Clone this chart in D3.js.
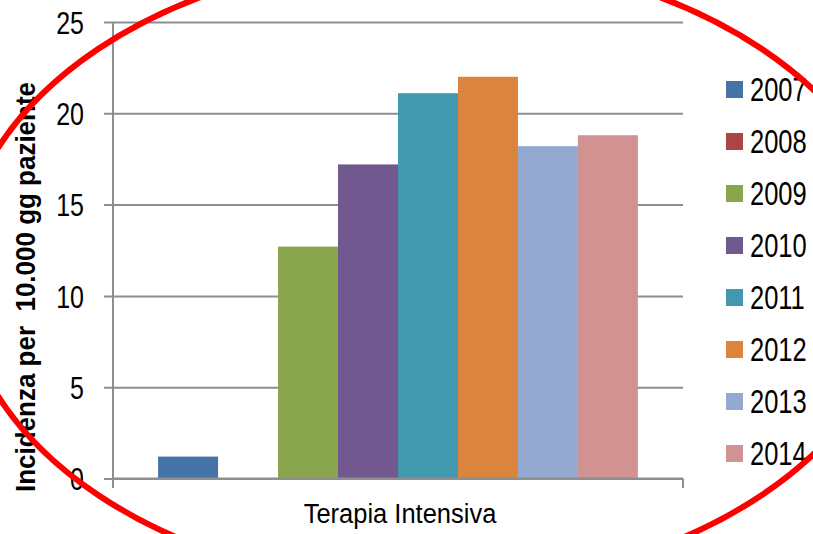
<!DOCTYPE html>
<html>
<head>
<meta charset="utf-8">
<script src="https://cdn.jsdelivr.net/npm/d3@7"></script>
<style>
  html, body { margin: 0; padding: 0; background: #fff; }
  svg { display: block; font-family: "Liberation Sans", Arial, sans-serif; }
  text { white-space: pre; }
</style>
</head>
<body>
<svg id="chart" width="813" height="534"></svg>
<script>
// Incidence per 10,000 patient-days, intensive care, by year
const categories = ["Terapia Intensiva"];
const years = ["2007", "2008", "2009", "2010", "2011", "2012", "2013", "2014"];
const values = [1.2, 0, 12.7, 17.2, 21.1, 22.0, 18.2, 18.8];
const colors = ["#4572A7", "#AA4643", "#89A54E", "#71588F", "#4198AF", "#DB843D", "#93A9CF", "#D19392"];
const yTicks = [0, 5, 10, 15, 20, 25];
const yTitle = "Incidenza per  10.000 gg paziente";

const svg = d3.select("#chart");
const plot = { left: 113, right: 683, top: 22, bottom: 478.5 };
const gridColor = "#8e8e8e";

const y = d3.scaleLinear().domain([0, 25]).range([plot.bottom, plot.top]);
const x0 = d3.scaleBand().domain(categories).range([plot.left, plot.right])
  .paddingInner(0).paddingOuter(0.094);
const x1 = d3.scaleBand().domain(years).range([0, x0.bandwidth()]);
const color = d3.scaleOrdinal().domain(years).range(colors);

// gridlines + left ticks
const yAxis = d3.axisLeft(y).tickValues(yTicks).tickSize(-(plot.right - plot.left)).tickSizeOuter(0).tickFormat("");
const ga = svg.append("g").attr("transform", `translate(${plot.left},0)`).call(yAxis);
ga.select(".domain").remove();
ga.selectAll(".tick line").attr("x1", -9).attr("stroke", gridColor).attr("stroke-width", 2);

// tick labels (slightly tall glyphs)
ga.selectAll(".tick").append("g")
  .attr("transform", "translate(-29,0) scale(1,1.25)")
  .append("text")
  .attr("text-anchor", "end")
  .attr("dy", "0.36em")
  .attr("fill", "#000")
  .attr("font-size", 25)
  .text(d => d);

// bars
const groups = svg.selectAll("g.cat").data(categories).enter().append("g")
  .attr("class", "cat")
  .attr("transform", d => `translate(${x0(d)},0)`);
groups.selectAll("rect").data(years.map((yr, i) => ({ yr, v: values[i] })))
  .enter().append("rect")
  .attr("x", d => x1(d.yr))
  .attr("width", x1.bandwidth())
  .attr("y", d => y(d.v))
  .attr("height", d => y(0) - y(d.v))
  .attr("fill", d => color(d.yr));

// axis lines
svg.append("line").attr("x1", plot.left).attr("x2", plot.left)
  .attr("y1", plot.top).attr("y2", plot.bottom + 9.5)
  .attr("stroke", gridColor).attr("stroke-width", 2);
svg.append("line").attr("x1", plot.left).attr("x2", plot.right)
  .attr("y1", plot.bottom).attr("y2", plot.bottom)
  .attr("stroke", gridColor).attr("stroke-width", 2);
[plot.left, plot.right].forEach(px => {
  svg.append("line").attr("x1", px).attr("x2", px)
    .attr("y1", plot.bottom).attr("y2", plot.bottom + 9.5)
    .attr("stroke", gridColor).attr("stroke-width", 2);
});

// category label
svg.selectAll("g.xlab").data(categories).enter().append("g")
  .attr("class", "xlab")
  .attr("transform", d => `translate(${x0(d) + x0.bandwidth() / 2 + 2},523) scale(1,1.06)`)
  .append("text")
  .attr("text-anchor", "middle")
  .attr("font-size", 25.5)
  .attr("fill", "#000")
  .text(d => d);

// y axis title
svg.append("g")
  .attr("transform", "translate(35,287) rotate(-90) scale(1,1.07)")
  .append("text")
  .attr("text-anchor", "middle")
  .attr("font-size", 26)
  .attr("font-weight", "bold")
  .attr("fill", "#000")
  .text(yTitle);

// legend
const legend = svg.append("g").attr("transform", "translate(726,81)");
const items = legend.selectAll("g").data(years).enter().append("g")
  .attr("transform", (d, i) => `translate(0,${i * 52})`);
items.append("rect").attr("width", 17).attr("height", 17).attr("fill", d => color(d));
items.append("g")
  .attr("transform", "translate(24,8.5) scale(1,1.28)")
  .append("text")
  .attr("dy", "0.36em")
  .attr("font-size", 25.5)
  .attr("fill", "#000")
  .text(d => d);

// red highlight ellipse
svg.append("ellipse")
  .attr("cx", 430).attr("cy", 272).attr("rx", 470).attr("ry", 315)
  .attr("fill", "none").attr("stroke", "#ff0000").attr("stroke-width", 6);
</script>
</body>
</html>
